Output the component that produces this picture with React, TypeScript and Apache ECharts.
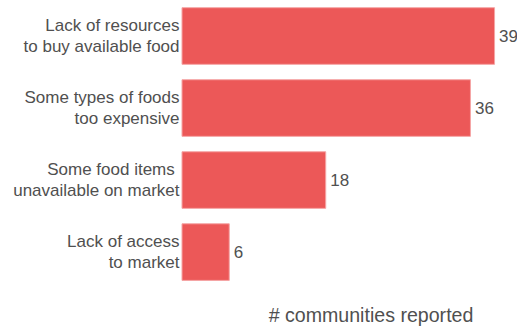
import React, { useEffect, useRef } from "react";
import * as echarts from "echarts";

const categories = [
  "Lack of resources\nto buy available food",
  "Some types of foods\ntoo expensive",
  "Some food items \nunavailable on market",
  "Lack of access\nto market",
];
const values = [39, 36, 18, 6];
const axisTitle = "# communities reported";

export default function App() {
  const ref = useRef<HTMLDivElement>(null);
  useEffect(() => {
    const chart = echarts.init(ref.current!, null, { renderer: "svg" });
    chart.setOption({
      animation: false,
      textStyle: { fontFamily: "Liberation Sans" },
      grid: { left: 181.5, top: -2.3, width: 321.6, height: 290.4 },
      xAxis: {
        type: "value",
        min: 0,
        max: 40,
        show: false,
      },
      yAxis: {
        type: "category",
        inverse: true,
        data: categories,
        axisLine: { show: false },
        axisTick: { show: false },
        splitLine: { show: false },
        axisLabel: {
          margin: 2,
          fontSize: 17,
          lineHeight: 21.5,
          color: "#505050",
          align: "right",
          fontFamily: "Liberation Sans",
        },
      },
      series: [
        {
          type: "bar",
          data: values,
          barCategoryGap: "20%",
          itemStyle: { color: "#EC5858", borderColor: "#F5A5A5", borderWidth: 1 },
          label: {
            show: true,
            position: "right",
            distance: 4,
            fontSize: 17,
            color: "#505050",
            fontFamily: "Liberation Sans",
          },
        },
      ],
      graphic: [
        {
          type: "text",
          x: 371,
          y: 315,
          style: {
            text: axisTitle,
            fontSize: 19.6,
            fill: "#505050",
            fontFamily: "Liberation Sans",
            align: "center",
            verticalAlign: "middle",
          },
        },
      ],
    });
    return () => chart.dispose();
  }, []);
  return <div ref={ref} style={{ width: 517, height: 326, position: "absolute", left: 0, top: 0 }} />;
}
